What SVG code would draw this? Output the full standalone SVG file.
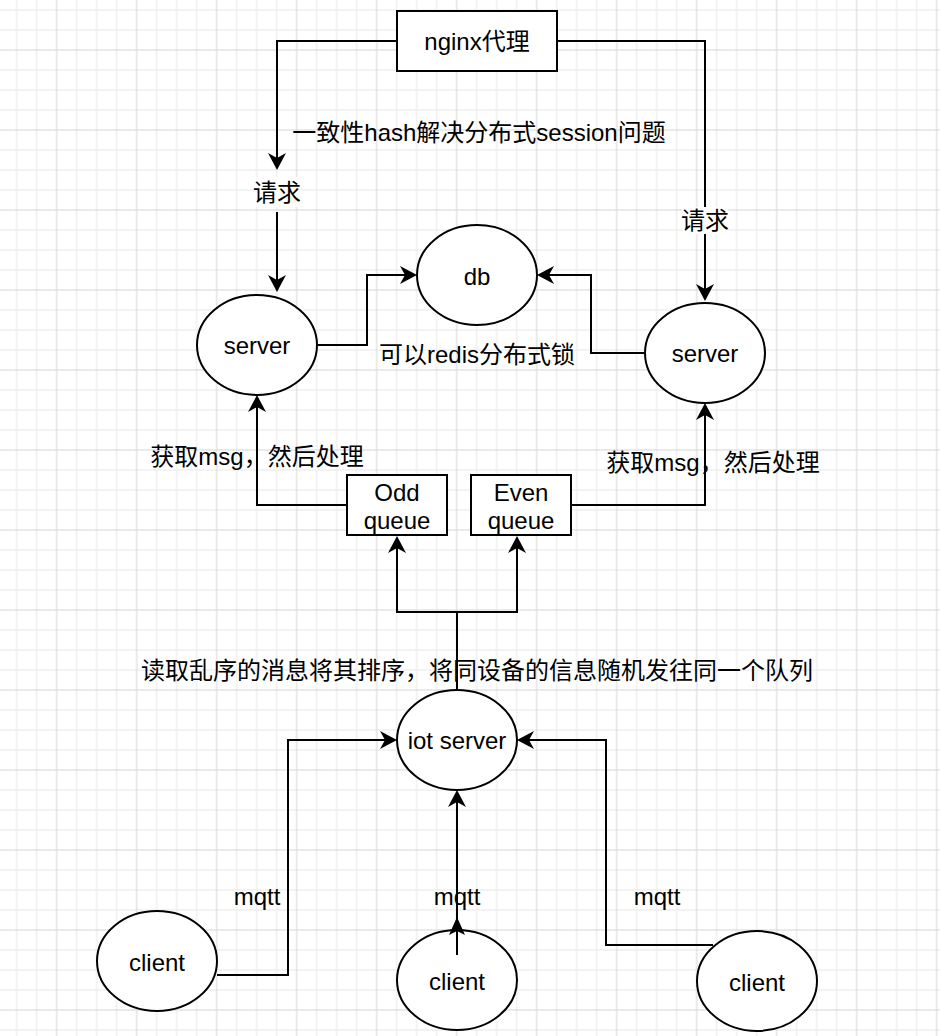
<svg xmlns="http://www.w3.org/2000/svg" width="940" height="1036" viewBox="0 0 940 1036">
  <defs>
    <pattern id="grid" patternUnits="userSpaceOnUse" x="46.7" y="40" width="80" height="80">
      <path d="M30,0 V80 M50,0 V80 M70,0 V80 M0,30 H80 M0,50 H80 M0,70 H80" stroke="#f0f0f0" stroke-width="1.6" fill="none"/>
      <path d="M10,0 V80 M0,10 H80" stroke="#d5d5d5" stroke-width="1" fill="none"/>
    </pattern>
    <marker id="arrow" markerUnits="userSpaceOnUse" viewBox="-6 -10 20 20" markerWidth="20" markerHeight="20" refX="0" refY="0" orient="auto">
      <path d="M-5,-9 L12,0 L-5,9 L0,0 Z" fill="#000"/>
    </marker>
    <style>
      .shape { fill: #fff; stroke: #000; stroke-width: 2; }
      .edge { fill: none; stroke: #000; stroke-width: 2; marker-end: url(#arrow); }
      .line { fill: none; stroke: #000; stroke-width: 2; }
      text { font-family: "Liberation Sans", "Noto Sans CJK SC", sans-serif; font-size: 24px; fill: #000; text-anchor: middle; dominant-baseline: central; }
      .bg { fill: #fff; }
    </style>
  </defs>

  <rect width="940" height="1036" fill="#fff"/>
  <rect width="940" height="1036" fill="url(#grid)"/>

  <g id="connectors">
    <path class="edge" d="M397,41 H277 V158"/>
    <path class="edge" d="M277,212 V280"/>
    <path class="edge" d="M557,41 H705 V289"/>
    <rect class="bg" x="682" y="207" width="46" height="27"/>
    <text x="705" y="220">请求</text>
    <path class="edge" d="M317,345 H367 V275 H405"/>
    <path class="edge" d="M645,353 H591 V275 H549"/>
    <path class="edge" d="M347,505 H257 V407"/>
    <path class="edge" d="M571,505 H705 V415"/>
    <path class="line" d="M457,690 V612"/>
    <path class="edge" d="M457,612 H397 V548"/>
    <path class="edge" d="M457,612 H517 V548"/>
    <path class="edge" d="M217,975 H288 V740 H385"/>
    <path class="edge" d="M713,945 H606 V740 H529"/>
    <path class="edge" d="M457,955 V802"/>
  </g>

  <g id="labels">
    <text x="479" y="132">一致性hash解决分布式session问题</text>
    <text x="477" y="354">可以redis分布式锁</text>
    <text x="257" y="456">获取msg，然后处理</text>
    <text x="713" y="462">获取msg，然后处理</text>
    <text x="477" y="670">读取乱序的消息将其排序，将同设备的信息随机发往同一个队列</text>
    <text x="257" y="896">mqtt</text>
    <text x="457" y="896">mqtt</text>
    <text x="657" y="896">mqtt</text>
  </g>

  <g id="nginx">
    <rect class="shape" x="397" y="11" width="160" height="60"/>
    <text x="477" y="41">nginx代理</text>
  </g>
  <g id="request-left">
    <rect class="bg" x="254" y="177" width="46" height="30"/>
    <text x="277" y="192">请求</text>
  </g>
  <g id="server-left">
    <ellipse class="shape" cx="257" cy="345" rx="60" ry="50"/>
    <text x="257" y="345">server</text>
  </g>
  <g id="db">
    <ellipse class="shape" cx="477" cy="275" rx="60" ry="50"/>
    <text x="477" y="276">db</text>
  </g>
  <g id="server-right">
    <ellipse class="shape" cx="705" cy="353" rx="60" ry="50"/>
    <text x="705" y="353">server</text>
  </g>
  <g id="odd-queue">
    <rect class="shape" x="347" y="475" width="100" height="60"/>
    <text x="397" y="492">Odd</text>
    <text x="397" y="520">queue</text>
  </g>
  <g id="even-queue">
    <rect class="shape" x="471" y="475" width="100" height="60"/>
    <text x="521" y="492">Even</text>
    <text x="521" y="520">queue</text>
  </g>
  <g id="iot-server">
    <ellipse class="shape" cx="457" cy="740" rx="60" ry="50"/>
    <text x="457" y="740">iot server</text>
  </g>
  <g id="client-left">
    <ellipse class="shape" cx="157" cy="961" rx="60" ry="50"/>
    <text x="157" y="962">client</text>
  </g>
  <g id="client-mid">
    <ellipse class="shape" cx="457" cy="980" rx="60" ry="50"/>
    <text x="457" y="981">client</text>
    <path class="line" d="M457,955 V930"/>
    <path d="M457,917 L465,935 L457,931 L449,935 Z" fill="#000"/>
  </g>
  <g id="client-right">
    <ellipse class="shape" cx="757" cy="981" rx="60" ry="50"/>
    <text x="757" y="982">client</text>
  </g>
</svg>
